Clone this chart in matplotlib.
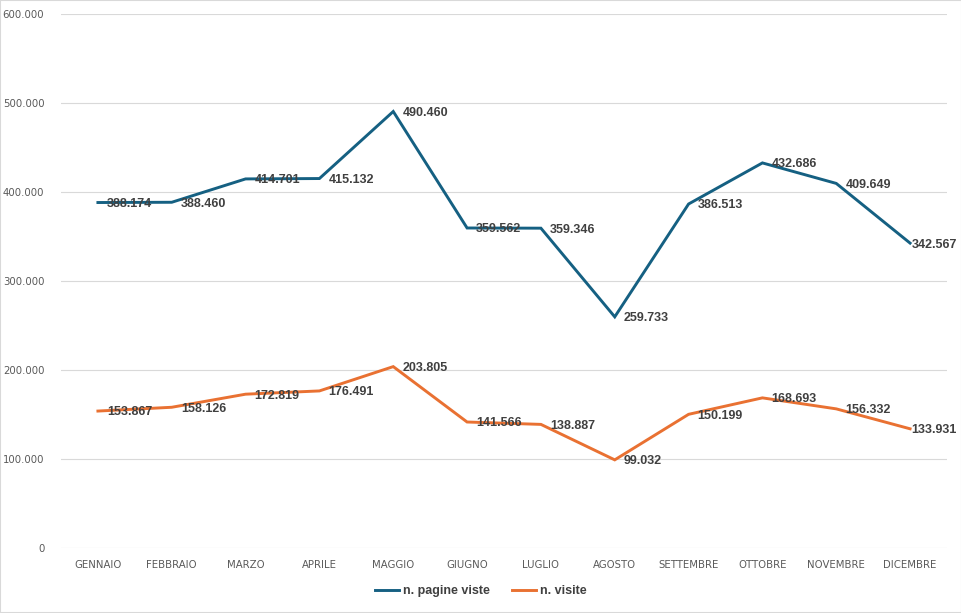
import matplotlib
matplotlib.use("Agg")
import matplotlib.pyplot as plt
from matplotlib.ticker import FuncFormatter

mesi = ["GENNAIO", "FEBBRAIO", "MARZO", "APRILE", "MAGGIO", "GIUGNO",
        "LUGLIO", "AGOSTO", "SETTEMBRE", "OTTOBRE", "NOVEMBRE", "DICEMBRE"]
pagine_viste = [388174, 388460, 414701, 415132, 490460, 359562,
                359346, 259733, 386513, 432686, 409649, 342567]
visite = [153867, 158126, 172819, 176491, 203805, 141566,
          138887, 99032, 150199, 168693, 156332, 133931]

blu = "#156082"
arancio = "#E97132"

plt.rcParams["font.family"] = ["Liberation Sans", "DejaVu Sans"]

def fmt(v):
    return f"{int(v):,}".replace(",", ".")

fig = plt.figure(figsize=(9.62, 6.13), dpi=100)
ax = fig.add_axes([61 / 962, 65 / 613, 886 / 962, 534 / 613])

x = range(len(mesi))
ax.plot(x, pagine_viste, color=blu, lw=2.1, label="n. pagine viste",
        solid_joinstyle="miter", zorder=3)
ax.plot(x, visite, color=arancio, lw=2.1, label="n. visite",
        solid_joinstyle="miter", zorder=3)

# etichette a destra del punto (l'ultima spinta dentro al grafico come in Excel)
for serie in (pagine_viste, visite):
    for i, v in enumerate(serie):
        dx = 1 if i == len(serie) - 1 else 6.5
        ax.annotate(fmt(v), (i, v), xytext=(dx, -1), textcoords="offset points",
                    ha="left", va="center", fontsize=9, fontweight="bold",
                    color="#404040", zorder=4)

ax.set_xlim(-0.5, len(mesi) - 0.5)
ax.set_ylim(0, 600000)
ax.set_yticks(range(0, 600001, 100000))
ax.yaxis.set_major_formatter(FuncFormatter(lambda v, p: fmt(v)))
ax.set_xticks(list(x))
ax.set_xticklabels(mesi, family=["DejaVu Sans"])
for t in ax.get_yticklabels():
    t.set_family(["DejaVu Sans"])
ax.tick_params(axis="both", length=0, labelsize=7.3, colors="#595959")
ax.tick_params(axis="x", pad=9)
ax.tick_params(axis="y", pad=12)
ax.grid(axis="y", color="#D9D9D9", lw=0.8)
ax.set_axisbelow(True)
for s in ax.spines.values():
    s.set_visible(False)

leg = fig.legend(loc="lower center", bbox_to_anchor=(0.5, 0.007), ncol=2, frameon=False,
                 prop={"weight": "bold", "size": 9}, handlelength=1.9,
                 handletextpad=0.3, columnspacing=1.8)
for t in leg.get_texts():
    t.set_color("#404040")

fig.patches.append(plt.Rectangle((0, 0), 1, 1, transform=fig.transFigure,
                                 fill=False, ec="#D9D9D9", lw=1.5))
fig.savefig("out.png", dpi=100)
